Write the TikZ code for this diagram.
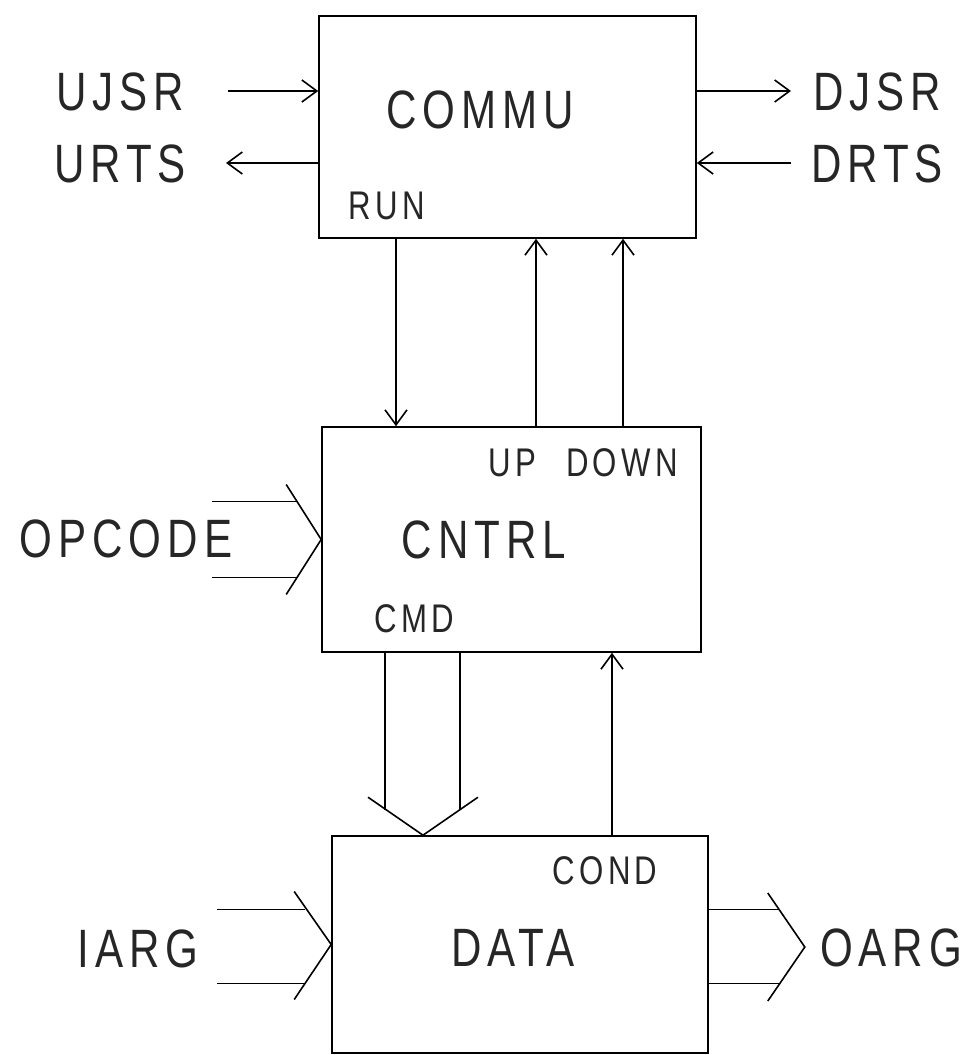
\documentclass[tikz,border=0pt]{standalone}
\usepackage{fontspec}
\setmainfont{Liberation Sans}[FakeStretch=0.78, LetterSpace=11]
\usetikzlibrary{arrows.meta}

\tikzset{
  blk/.style={draw, line width=1.6pt, inner sep=0pt},
  sig/.style={line width=1.6pt,
    -{Straight Barb[length=15pt, width=22pt, line width=1.6pt]}},
  bus/.style={line width=1.6pt},
  big/.style={font=\fontsize{54}{60}\selectfont, text=black!85, inner sep=0pt,
    text height=39pt, text depth=0pt},
  small/.style={font=\fontsize{40}{46}\selectfont, text=black!85, inner sep=0pt,
    text height=29pt, text depth=0pt},
}

\begin{document}
\begin{tikzpicture}[x=1pt, y=-1pt]
\useasboundingbox (0,0) rectangle (965,1055);
%
% ---- Blocks ----
\node[blk, minimum width=377pt, minimum height=222pt] (commu) at (507.5,127) {};
\node[blk, minimum width=379pt, minimum height=225pt] (cntrl) at (511.5,539.5) {};
\node[blk, minimum width=376pt, minimum height=217pt] (data) at (520,944.5) {};
%
% ---- Block names ----
\node[big] (commuT) at (480,109) {COMMU};
\node[big] (cntrlT) at (484,539) {CNTRL};
\node[big] (dataT) at (513,947) {DATA};
%
% ---- Port names ----
\node[small] (runT) at (387,205) {RUN};
\node[small] (upT) at (512,462) {UP};
\node[small] (downT) at (622,462) {DOWN};
\node[small] (cmdT) at (414,618) {CMD};
\node[small] (condT) at (605,870) {COND};
%
% ---- Outside signals ----
\node[big] (ujsr) at (120,91) {UJSR};
\node[big] (urts) at (120,163) {URTS};
\node[big] (djsr) at (877,91) {DJSR};
\node[big] (drts) at (877,163) {DRTS};
\node[big] (opcode) at (126,538) {OPCODE};
\node[big] (iarg) at (138,948) {IARG};
\node[big] (oarg) at (891,947) {OARG};
%
\coordinate (ujsrS) at (228,91);
\coordinate (urtsE) at (226,163);
\coordinate (djsrE) at (791,91);
\coordinate (drtsS) at (791,163);
%
% ---- Handshake lines ----
\draw[sig] (ujsrS) -- (ujsrS -| commu.west);
\draw[sig] (urtsE -| commu.west) -- (urtsE);
\draw[sig] (djsrE -| commu.east) -- (djsrE);
\draw[sig] (drtsS) -- (drtsS -| commu.east);
%
% ---- Control lines ----
\draw[sig] (396,0 |- commu.south) -- (396,0 |- cntrl.north);
\draw[sig] (536,0 |- cntrl.north) -- (536,0 |- commu.south);
\draw[sig] (623,0 |- cntrl.north) -- (623,0 |- commu.south);
\draw[sig] (612,0 |- data.north) -- (612,0 |- cntrl.south);
%
% ---- Buses ----
% opcode
\draw[bus] (cntrl.west) ++(-109,-38) -- ++(84,0);
\draw[bus] (cntrl.west) ++(-109,38) -- ++(84,0);
\draw[bus] (cntrl.west) ++(-35,-55) -- (cntrl.west) -- ++(-35,55);
% cmd
\draw[bus] (385,0 |- cntrl.south) -- (385,810);
\draw[bus] (460,0 |- cntrl.south) -- (460,810);
\draw[bus] (423,0 |- data.north) ++(-55,-38) -- (423,0 |- data.north) -- ++(55,-38);
% iarg
\draw[bus] (data.west) ++(-114,-35) -- ++(88,0);
\draw[bus] (data.west) ++(-114,39) -- ++(88,0);
\draw[bus] (data.west) ++(-37,-53) -- (data.west) -- ++(-37,55);
% oarg
\coordinate (oargP) at ([xshift=96pt, yshift=-2.5pt]data.east);
\draw[bus] ([yshift=35pt]data.east) -- ++(70,0);
\draw[bus] ([yshift=-39pt]data.east) -- ++(70,0);
\draw[bus] (oargP) ++(-37,-54) -- (oargP) -- ++(-37,54);
\end{tikzpicture}
\end{document}
